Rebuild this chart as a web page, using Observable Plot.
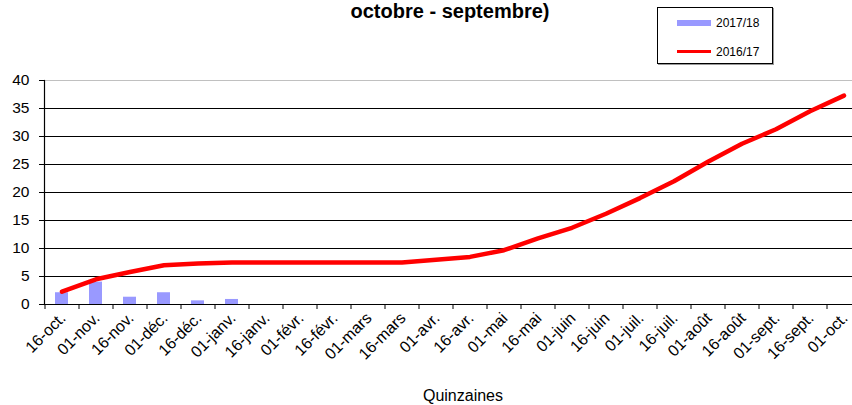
<!DOCTYPE html>
<html>
<head>
<meta charset="utf-8">
<script src="https://cdn.jsdelivr.net/npm/d3@7"></script>
<script src="https://cdn.jsdelivr.net/npm/@observablehq/plot@0.6"></script>
<style>
  html, body { margin: 0; padding: 0; background: #fff; }
  #wrap { position: relative; width: 852px; height: 405px; overflow: hidden; font-family: "Liberation Sans", Arial, sans-serif; color: #000; }
  #title { position: absolute; left: 250px; width: 400px; top: 0px; text-align: center; font-weight: bold; font-size: 20px; line-height: normal; white-space: nowrap; }
  #legend { position: absolute; left: 657px; top: 7px; width: 114px; height: 55px; border: 1px solid #000; box-shadow: 1px 1px 0 #999; background: #fff; font-size: 12px; }
  .sw { position: absolute; left: 19px; width: 34px; }
  .lt { position: absolute; left: 58px; line-height: 1; }
  #xlabel { position: absolute; left: 363px; width: 200px; text-align: center; top: 388px; font-size: 16px; line-height: 1; }
  #chart svg { display: block; }
</style>
</head>
<body>
<div id="wrap">
  <div id="chart"></div>
  <div id="title">octobre - septembre)</div>
  <div id="legend">
    <div class="sw" style="top:12px;height:6px;background:#9999ff"></div>
    <div class="lt" style="top:9px">2017/18</div>
    <div class="sw" style="top:42px;height:3px;background:#ff0000"></div>
    <div class="lt" style="top:38px">2016/17</div>
  </div>
  <div id="xlabel">Quinzaines</div>
</div>
<script>
const quinzaines = ["16-oct.","01-nov.","16-nov.","01-déc.","16-déc.","01-janv.","16-janv.","01-févr.","16-févr.","01-mars","16-mars","01-avr.","16-avr.","01-mai","16-mai","01-juin","16-juin","01-juil.","16-juil.","01-août","16-août","01-sept.","16-sept.","01-oct."];
const serie2017_18 = [2.1, 4.0, 1.3, 2.1, 0.65, 0.9];
const serie2016_17 = [2.3, 4.5, 5.8, 7.0, 7.3, 7.5, 7.5, 7.5, 7.5, 7.5, 7.5, 8.0, 8.5, 9.7, 11.8, 13.7, 16.2, 19.0, 22.0, 25.5, 28.7, 31.3, 34.5, 37.3];
const yTicks = [0, 5, 10, 15, 20, 25, 30, 35, 40];

const bars = serie2017_18.map((v, i) => ({q: quinzaines[i], v}));
const line = serie2016_17.map((v, i) => ({q: quinzaines[i], v}));

const chart = Plot.plot({
  width: 852,
  height: 405,
  marginTop: 80,
  marginBottom: 101,
  marginLeft: 44,
  marginRight: 0,
  x: {domain: quinzaines, range: [44, 860], paddingInner: 0.62, paddingOuter: 0.31},
  y: {domain: [0, 40], range: [304, 80]},
  style: {fontFamily: "'Liberation Sans', Arial, sans-serif", color: "#000", background: "#fff", overflow: "hidden"},
  marks: [
    Plot.ruleY(yTicks.filter(d => d > 0 && d < 40), {stroke: "#000", strokeWidth: 1, strokeOpacity: 1}),
    Plot.ruleY([40], {stroke: "#c0c0c0", strokeWidth: 1, strokeOpacity: 1}),
    Plot.barY(bars, {x: "q", y: "v", fill: "#9999ff"}),
    Plot.line(line, {x: "q", y: "v", stroke: "#ff0000", strokeWidth: 4.5, strokeLinecap: "round", strokeLinejoin: "round"}),
    Plot.ruleY([0], {stroke: "#000", strokeWidth: 1.2, strokeOpacity: 1}),
    Plot.frame({anchor: "left", stroke: "#000", strokeWidth: 1.2}),
    Plot.axisY({ticks: yTicks, tickSize: 5, tickPadding: 10, fontSize: 15.5, strokeOpacity: 1, label: null}),
    Plot.axisX({tickSize: 5, tickFormat: () => "", dx: -17, strokeOpacity: 1, label: null}),
    Plot.axisX({tickSize: 0, tickRotate: -45, tickPadding: 11, fontSize: 16, label: null, dx: 1})
  ]
});
document.getElementById("chart").appendChild(chart);
</script>
</body>
</html>
